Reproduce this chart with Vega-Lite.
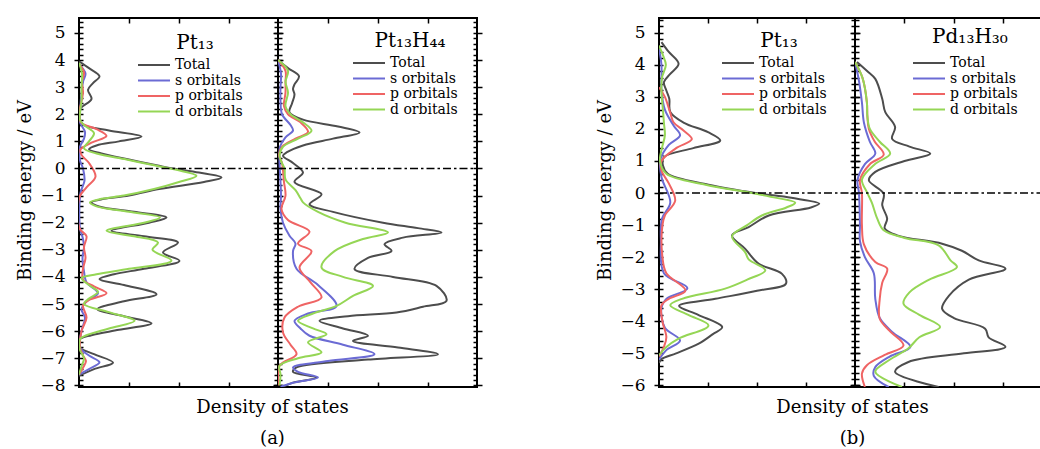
{
"$schema": "https://vega.github.io/schema/vega-lite/v6.json",
"padding": {"left": 15, "top": 16, "right": 0, "bottom": 0},
"background": "white",
"config": {
 "view": {"stroke": "black", "strokeWidth": 2},
 "font": "DejaVu Serif",
 "axis": {"grid": false, "domain": false, "tickColor": "black", "tickWidth": 1.5, "labelFont": "DejaVu Serif", "titleFont": "DejaVu Serif", "labelColor": "black", "titleColor": "black", "titleFontWeight": "normal", "labelFontSize": 17, "titleFontSize": 18},
 "legend": {"orient": "none", "symbolType": "M-3.2,0H3.2", "symbolSize": 100, "symbolStrokeWidth": 2, "symbolFillColor": "transparent", "labelFontSize": 14, "labelFont": "DejaVu Serif", "titleFont": "DejaVu Serif", "titleFontSize": 20, "titleFontWeight": "normal", "titleAnchor": "middle", "rowPadding": 1.5, "labelOffset": 14, "titlePadding": 5, "labelColor": "black", "titleColor": "black", "labelLimit": 200, "padding": 0}
},
"datasets": {
 "a1": [
  {"o":"Total","E":3.95,"v":0},{"o":"Total","E":3.7,"v":0.2},{"o":"Total","E":3.4,"v":0.41},{"o":"Total","E":3.15,"v":0.28},{"o":"Total","E":2.9,"v":0.18},{"o":"Total","E":2.56,"v":0.25},{"o":"Total","E":2.3,"v":0.08},{"o":"Total","E":2.15,"v":0},{"o":"Total","E":1.8,"v":0.01},{"o":"Total","E":1.6,"v":0.1},{"o":"Total","E":1.4,"v":0.6},{"o":"Total","E":1.18,"v":1.25},{"o":"Total","E":1.0,"v":0.8},{"o":"Total","E":0.85,"v":0.35},{"o":"Total","E":0.71,"v":0.2},{"o":"Total","E":0.55,"v":0.45},{"o":"Total","E":0.33,"v":1.0},{"o":"Total","E":0.1,"v":1.6},{"o":"Total","E":0,"v":1.88},{"o":"Total","E":-0.15,"v":2.4},{"o":"Total","E":-0.33,"v":2.85},{"o":"Total","E":-0.5,"v":2.5},{"o":"Total","E":-0.76,"v":1.6},{"o":"Total","E":-1.0,"v":1.0},{"o":"Total","E":-1.12,"v":0.5},{"o":"Total","E":-1.25,"v":0.25},{"o":"Total","E":-1.4,"v":0.4},{"o":"Total","E":-1.6,"v":1.1},{"o":"Total","E":-1.81,"v":1.75},{"o":"Total","E":-2.0,"v":1.4},{"o":"Total","E":-2.3,"v":0.65},{"o":"Total","E":-2.5,"v":1.3},{"o":"Total","E":-2.73,"v":1.98},{"o":"Total","E":-3.1,"v":1.68},{"o":"Total","E":-3.41,"v":2.01},{"o":"Total","E":-3.7,"v":1.3},{"o":"Total","E":-3.9,"v":0.7},{"o":"Total","E":-4.08,"v":0.41},{"o":"Total","E":-4.3,"v":0.9},{"o":"Total","E":-4.64,"v":1.55},{"o":"Total","E":-4.9,"v":0.9},{"o":"Total","E":-5.19,"v":0.37},{"o":"Total","E":-5.45,"v":0.9},{"o":"Total","E":-5.71,"v":1.45},{"o":"Total","E":-5.95,"v":0.8},{"o":"Total","E":-6.15,"v":0.25},{"o":"Total","E":-6.3,"v":0.02},{"o":"Total","E":-6.6,"v":0.02},{"o":"Total","E":-6.85,"v":0.3},{"o":"Total","E":-7.16,"v":0.68},{"o":"Total","E":-7.4,"v":0.3},{"o":"Total","E":-7.65,"v":0},
  {"o":"s orbitals","E":3.85,"v":0},{"o":"s orbitals","E":3.5,"v":0.13},{"o":"s orbitals","E":3.2,"v":0.08},{"o":"s orbitals","E":2.8,"v":0.05},{"o":"s orbitals","E":2.3,"v":0.03},{"o":"s orbitals","E":1.7,"v":0.02},{"o":"s orbitals","E":1.35,"v":0.12},{"o":"s orbitals","E":1.1,"v":0.1},{"o":"s orbitals","E":0.8,"v":0.02},{"o":"s orbitals","E":0.3,"v":0.02},{"o":"s orbitals","E":0,"v":0.08},{"o":"s orbitals","E":-0.45,"v":0.11},{"o":"s orbitals","E":-0.9,"v":0.03},{"o":"s orbitals","E":-2.2,"v":0.02},{"o":"s orbitals","E":-2.6,"v":0.08},{"o":"s orbitals","E":-2.9,"v":0.1},{"o":"s orbitals","E":-3.3,"v":0.07},{"o":"s orbitals","E":-3.8,"v":0.1},{"o":"s orbitals","E":-4.2,"v":0.15},{"o":"s orbitals","E":-4.6,"v":0.38},{"o":"s orbitals","E":-4.9,"v":0.15},{"o":"s orbitals","E":-5.2,"v":0.05},{"o":"s orbitals","E":-5.5,"v":0.12},{"o":"s orbitals","E":-6.0,"v":0.05},{"o":"s orbitals","E":-6.6,"v":0.02},{"o":"s orbitals","E":-6.9,"v":0.2},{"o":"s orbitals","E":-7.15,"v":0.41},{"o":"s orbitals","E":-7.4,"v":0.2},{"o":"s orbitals","E":-7.6,"v":0},
  {"o":"p orbitals","E":3.85,"v":0},{"o":"p orbitals","E":3.55,"v":0.1},{"o":"p orbitals","E":3.2,"v":0.06},{"o":"p orbitals","E":2.8,"v":0.08},{"o":"p orbitals","E":2.4,"v":0.04},{"o":"p orbitals","E":2.1,"v":0.01},{"o":"p orbitals","E":1.7,"v":0.04},{"o":"p orbitals","E":1.45,"v":0.35},{"o":"p orbitals","E":1.2,"v":0.55},{"o":"p orbitals","E":0.95,"v":0.25},{"o":"p orbitals","E":0.7,"v":0.03},{"o":"p orbitals","E":0.5,"v":0.05},{"o":"p orbitals","E":0.2,"v":0.2},{"o":"p orbitals","E":-0.3,"v":0.33},{"o":"p orbitals","E":-0.7,"v":0.15},{"o":"p orbitals","E":-1.05,"v":0.01},{"o":"p orbitals","E":-2.2,"v":0.01},{"o":"p orbitals","E":-2.5,"v":0.15},{"o":"p orbitals","E":-2.9,"v":0.1},{"o":"p orbitals","E":-3.3,"v":0.13},{"o":"p orbitals","E":-3.7,"v":0.08},{"o":"p orbitals","E":-4.1,"v":0.08},{"o":"p orbitals","E":-4.35,"v":0.3},{"o":"p orbitals","E":-4.6,"v":0.55},{"o":"p orbitals","E":-4.85,"v":0.2},{"o":"p orbitals","E":-5.05,"v":0.08},{"o":"p orbitals","E":-5.5,"v":0.15},{"o":"p orbitals","E":-6.0,"v":0.05},{"o":"p orbitals","E":-6.6,"v":0.02},{"o":"p orbitals","E":-6.9,"v":0.08},{"o":"p orbitals","E":-7.1,"v":0.14},{"o":"p orbitals","E":-7.35,"v":0.08},{"o":"p orbitals","E":-7.6,"v":0},
  {"o":"d orbitals","E":3.9,"v":0},{"o":"d orbitals","E":3.5,"v":0.06},{"o":"d orbitals","E":3.0,"v":0.05},{"o":"d orbitals","E":2.5,"v":0.05},{"o":"d orbitals","E":2.2,"v":0.03},{"o":"d orbitals","E":1.8,"v":0.02},{"o":"d orbitals","E":1.6,"v":0.1},{"o":"d orbitals","E":1.3,"v":0.3},{"o":"d orbitals","E":1.0,"v":0.2},{"o":"d orbitals","E":0.75,"v":0.1},{"o":"d orbitals","E":0.55,"v":0.35},{"o":"d orbitals","E":0.33,"v":0.95},{"o":"d orbitals","E":0.1,"v":1.55},{"o":"d orbitals","E":-0.05,"v":1.95},{"o":"d orbitals","E":-0.27,"v":2.35},{"o":"d orbitals","E":-0.5,"v":2.0},{"o":"d orbitals","E":-0.76,"v":1.5},{"o":"d orbitals","E":-1.0,"v":0.9},{"o":"d orbitals","E":-1.12,"v":0.45},{"o":"d orbitals","E":-1.25,"v":0.22},{"o":"d orbitals","E":-1.4,"v":0.35},{"o":"d orbitals","E":-1.6,"v":1.0},{"o":"d orbitals","E":-1.81,"v":1.62},{"o":"d orbitals","E":-2.0,"v":1.3},{"o":"d orbitals","E":-2.3,"v":0.55},{"o":"d orbitals","E":-2.5,"v":1.1},{"o":"d orbitals","E":-2.73,"v":1.58},{"o":"d orbitals","E":-3.0,"v":1.47},{"o":"d orbitals","E":-3.4,"v":1.85},{"o":"d orbitals","E":-3.7,"v":1.0},{"o":"d orbitals","E":-3.9,"v":0.35},{"o":"d orbitals","E":-4.05,"v":0.05},{"o":"d orbitals","E":-4.3,"v":0.2},{"o":"d orbitals","E":-4.55,"v":0.38},{"o":"d orbitals","E":-4.8,"v":0.2},{"o":"d orbitals","E":-5.0,"v":0.1},{"o":"d orbitals","E":-5.3,"v":0.6},{"o":"d orbitals","E":-5.62,"v":1.11},{"o":"d orbitals","E":-5.9,"v":0.6},{"o":"d orbitals","E":-6.15,"v":0.15},{"o":"d orbitals","E":-6.3,"v":0.02},{"o":"d orbitals","E":-6.7,"v":0.02},{"o":"d orbitals","E":-7.0,"v":0.1},{"o":"d orbitals","E":-7.3,"v":0.05},{"o":"d orbitals","E":-7.6,"v":0}
 ],
 "a2": [
  {"o":"Total","E":4.0,"v":0},{"o":"Total","E":3.7,"v":0.2},{"o":"Total","E":3.4,"v":0.42},{"o":"Total","E":3.1,"v":0.33},{"o":"Total","E":2.93,"v":0.3},{"o":"Total","E":2.73,"v":0.33},{"o":"Total","E":2.4,"v":0.28},{"o":"Total","E":2.07,"v":0.23},{"o":"Total","E":1.8,"v":0.5},{"o":"Total","E":1.55,"v":1.2},{"o":"Total","E":1.33,"v":1.63},{"o":"Total","E":1.1,"v":1.1},{"o":"Total","E":0.85,"v":0.5},{"o":"Total","E":0.6,"v":0.18},{"o":"Total","E":0.47,"v":0.1},{"o":"Total","E":0.2,"v":0.3},{"o":"Total","E":-0.15,"v":0.5},{"o":"Total","E":-0.5,"v":0.33},{"o":"Total","E":-0.95,"v":0.87},{"o":"Total","E":-1.32,"v":0.63},{"o":"Total","E":-1.6,"v":1.1},{"o":"Total","E":-2.0,"v":2.1},{"o":"Total","E":-2.2,"v":2.8},{"o":"Total","E":-2.36,"v":3.27},{"o":"Total","E":-2.55,"v":2.5},{"o":"Total","E":-2.79,"v":2.13},{"o":"Total","E":-3.04,"v":2.27},{"o":"Total","E":-3.3,"v":1.8},{"o":"Total","E":-3.71,"v":1.53},{"o":"Total","E":-4.0,"v":2.3},{"o":"Total","E":-4.33,"v":3.17},{"o":"Total","E":-4.88,"v":3.37},{"o":"Total","E":-5.1,"v":2.9},{"o":"Total","E":-5.31,"v":2.37},{"o":"Total","E":-5.45,"v":1.4},{"o":"Total","E":-5.62,"v":0.83},{"o":"Total","E":-5.9,"v":1.3},{"o":"Total","E":-6.17,"v":1.8},{"o":"Total","E":-6.36,"v":1.5},{"o":"Total","E":-6.6,"v":2.4},{"o":"Total","E":-6.85,"v":3.2},{"o":"Total","E":-7.05,"v":1.8},{"o":"Total","E":-7.34,"v":0.37},{"o":"Total","E":-7.5,"v":0.3},{"o":"Total","E":-7.71,"v":0.77},{"o":"Total","E":-7.9,"v":0.3},{"o":"Total","E":-8.05,"v":0.1},
  {"o":"s orbitals","E":4.0,"v":0},{"o":"s orbitals","E":3.5,"v":0.06},{"o":"s orbitals","E":3.0,"v":0.05},{"o":"s orbitals","E":2.5,"v":0.05},{"o":"s orbitals","E":2.0,"v":0.08},{"o":"s orbitals","E":1.6,"v":0.25},{"o":"s orbitals","E":1.4,"v":0.3},{"o":"s orbitals","E":1.15,"v":0.15},{"o":"s orbitals","E":0.8,"v":0.04},{"o":"s orbitals","E":0.3,"v":0.03},{"o":"s orbitals","E":-0.5,"v":0.05},{"o":"s orbitals","E":-1.0,"v":0.06},{"o":"s orbitals","E":-1.5,"v":0.05},{"o":"s orbitals","E":-2.0,"v":0.1},{"o":"s orbitals","E":-2.48,"v":0.23},{"o":"s orbitals","E":-2.77,"v":0.35},{"o":"s orbitals","E":-3.05,"v":0.3},{"o":"s orbitals","E":-3.7,"v":0.37},{"o":"s orbitals","E":-4.3,"v":0.8},{"o":"s orbitals","E":-5.07,"v":1.17},{"o":"s orbitals","E":-5.35,"v":0.6},{"o":"s orbitals","E":-5.62,"v":0.33},{"o":"s orbitals","E":-5.9,"v":0.45},{"o":"s orbitals","E":-6.17,"v":0.63},{"o":"s orbitals","E":-6.5,"v":1.3},{"o":"s orbitals","E":-6.85,"v":1.93},{"o":"s orbitals","E":-7.1,"v":1.0},{"o":"s orbitals","E":-7.34,"v":0.3},{"o":"s orbitals","E":-7.5,"v":0.4},{"o":"s orbitals","E":-7.71,"v":0.8},{"o":"s orbitals","E":-7.9,"v":0.3},{"o":"s orbitals","E":-8.05,"v":0.05},
  {"o":"p orbitals","E":4.0,"v":0},{"o":"p orbitals","E":3.6,"v":0.15},{"o":"p orbitals","E":3.2,"v":0.15},{"o":"p orbitals","E":2.8,"v":0.15},{"o":"p orbitals","E":2.3,"v":0.12},{"o":"p orbitals","E":2.0,"v":0.2},{"o":"p orbitals","E":1.7,"v":0.45},{"o":"p orbitals","E":1.35,"v":0.6},{"o":"p orbitals","E":1.1,"v":0.35},{"o":"p orbitals","E":0.8,"v":0.08},{"o":"p orbitals","E":0.5,"v":0.02},{"o":"p orbitals","E":0.2,"v":0.08},{"o":"p orbitals","E":-0.5,"v":0.12},{"o":"p orbitals","E":-1.0,"v":0.15},{"o":"p orbitals","E":-1.5,"v":0.07},{"o":"p orbitals","E":-1.9,"v":0.2},{"o":"p orbitals","E":-2.33,"v":0.63},{"o":"p orbitals","E":-2.77,"v":0.4},{"o":"p orbitals","E":-3.05,"v":0.67},{"o":"p orbitals","E":-3.65,"v":0.43},{"o":"p orbitals","E":-4.2,"v":0.65},{"o":"p orbitals","E":-4.76,"v":0.87},{"o":"p orbitals","E":-5.1,"v":0.4},{"o":"p orbitals","E":-5.5,"v":0.13},{"o":"p orbitals","E":-6.05,"v":0.1},{"o":"p orbitals","E":-6.5,"v":0.25},{"o":"p orbitals","E":-6.85,"v":0.37},{"o":"p orbitals","E":-7.28,"v":0.03},{"o":"p orbitals","E":-8.0,"v":0.02},
  {"o":"d orbitals","E":4.0,"v":0},{"o":"d orbitals","E":3.6,"v":0.2},{"o":"d orbitals","E":3.2,"v":0.15},{"o":"d orbitals","E":2.8,"v":0.2},{"o":"d orbitals","E":2.3,"v":0.15},{"o":"d orbitals","E":2.0,"v":0.25},{"o":"d orbitals","E":1.7,"v":0.5},{"o":"d orbitals","E":1.39,"v":0.67},{"o":"d orbitals","E":1.1,"v":0.4},{"o":"d orbitals","E":0.8,"v":0.1},{"o":"d orbitals","E":0.47,"v":0.03},{"o":"d orbitals","E":0.2,"v":0.08},{"o":"d orbitals","E":0,"v":0.13},{"o":"d orbitals","E":-0.4,"v":0.15},{"o":"d orbitals","E":-0.8,"v":0.35},{"o":"d orbitals","E":-1.1,"v":0.45},{"o":"d orbitals","E":-1.25,"v":0.5},{"o":"d orbitals","E":-1.6,"v":0.8},{"o":"d orbitals","E":-2.0,"v":1.35},{"o":"d orbitals","E":-2.36,"v":2.2},{"o":"d orbitals","E":-2.6,"v":1.7},{"o":"d orbitals","E":-3.05,"v":1.13},{"o":"d orbitals","E":-3.65,"v":0.87},{"o":"d orbitals","E":-4.0,"v":1.3},{"o":"d orbitals","E":-4.33,"v":1.9},{"o":"d orbitals","E":-4.7,"v":1.5},{"o":"d orbitals","E":-5.07,"v":1.17},{"o":"d orbitals","E":-5.35,"v":0.7},{"o":"d orbitals","E":-5.62,"v":0.4},{"o":"d orbitals","E":-5.9,"v":0.7},{"o":"d orbitals","E":-6.11,"v":0.97},{"o":"d orbitals","E":-6.41,"v":0.6},{"o":"d orbitals","E":-6.78,"v":0.87},{"o":"d orbitals","E":-7.0,"v":0.4},{"o":"d orbitals","E":-7.28,"v":0.03},{"o":"d orbitals","E":-7.6,"v":0.05},{"o":"d orbitals","E":-8.0,"v":0.03}
 ],
 "b1": [
  {"o":"Total","E":4.71,"v":0.05},{"o":"Total","E":4.4,"v":0.2},{"o":"Total","E":4.03,"v":0.4},{"o":"Total","E":3.7,"v":0.22},{"o":"Total","E":3.46,"v":0.1},{"o":"Total","E":3.2,"v":0.15},{"o":"Total","E":2.94,"v":0.21},{"o":"Total","E":2.53,"v":0.23},{"o":"Total","E":2.2,"v":0.5},{"o":"Total","E":1.9,"v":1.0},{"o":"Total","E":1.64,"v":1.25},{"o":"Total","E":1.4,"v":0.7},{"o":"Total","E":1.12,"v":0.1},{"o":"Total","E":0.86,"v":0.08},{"o":"Total","E":0.6,"v":0.18},{"o":"Total","E":0.26,"v":1.01},{"o":"Total","E":0,"v":1.97},{"o":"Total","E":-0.15,"v":2.7},{"o":"Total","E":-0.33,"v":3.27},{"o":"Total","E":-0.45,"v":3.1},{"o":"Total","E":-0.7,"v":2.24},{"o":"Total","E":-1.06,"v":1.83},{"o":"Total","E":-1.32,"v":1.49},{"o":"Total","E":-1.74,"v":1.76},{"o":"Total","E":-2.2,"v":2.03},{"o":"Total","E":-2.52,"v":2.51},{"o":"Total","E":-2.83,"v":2.59},{"o":"Total","E":-3.05,"v":2.0},{"o":"Total","E":-3.3,"v":1.15},{"o":"Total","E":-3.52,"v":0.41},{"o":"Total","E":-3.8,"v":0.8},{"o":"Total","E":-4.18,"v":1.29},{"o":"Total","E":-4.4,"v":1.1},{"o":"Total","E":-4.7,"v":0.81},{"o":"Total","E":-5.0,"v":0.35},{"o":"Total","E":-5.17,"v":0.06},{"o":"Total","E":-5.3,"v":0},
  {"o":"s orbitals","E":4.5,"v":0},{"o":"s orbitals","E":4.0,"v":0.05},{"o":"s orbitals","E":3.2,"v":0.05},{"o":"s orbitals","E":2.6,"v":0.12},{"o":"s orbitals","E":2.1,"v":0.3},{"o":"s orbitals","E":1.8,"v":0.43},{"o":"s orbitals","E":1.5,"v":0.2},{"o":"s orbitals","E":1.05,"v":0.03},{"o":"s orbitals","E":0.5,"v":0.05},{"o":"s orbitals","E":-0.3,"v":0.23},{"o":"s orbitals","E":-0.8,"v":0.06},{"o":"s orbitals","E":-1.5,"v":0.04},{"o":"s orbitals","E":-2.5,"v":0.1},{"o":"s orbitals","E":-2.97,"v":0.58},{"o":"s orbitals","E":-3.3,"v":0.15},{"o":"s orbitals","E":-3.6,"v":0.05},{"o":"s orbitals","E":-4.2,"v":0.12},{"o":"s orbitals","E":-4.6,"v":0.43},{"o":"s orbitals","E":-4.9,"v":0.15},{"o":"s orbitals","E":-5.2,"v":0},
  {"o":"p orbitals","E":3.3,"v":0},{"o":"p orbitals","E":3.0,"v":0.12},{"o":"p orbitals","E":2.5,"v":0.23},{"o":"p orbitals","E":2.2,"v":0.3},{"o":"p orbitals","E":1.95,"v":0.5},{"o":"p orbitals","E":1.68,"v":0.67},{"o":"p orbitals","E":1.4,"v":0.35},{"o":"p orbitals","E":1.0,"v":0.05},{"o":"p orbitals","E":0.7,"v":0.05},{"o":"p orbitals","E":0.3,"v":0.2},{"o":"p orbitals","E":-0.24,"v":0.33},{"o":"p orbitals","E":-0.7,"v":0.12},{"o":"p orbitals","E":-1.0,"v":0.07},{"o":"p orbitals","E":-2.0,"v":0.07},{"o":"p orbitals","E":-2.5,"v":0.15},{"o":"p orbitals","E":-3.04,"v":0.54},{"o":"p orbitals","E":-3.3,"v":0.2},{"o":"p orbitals","E":-3.5,"v":0.05},{"o":"p orbitals","E":-4.0,"v":0.07},{"o":"p orbitals","E":-4.5,"v":0.15},{"o":"p orbitals","E":-4.8,"v":0.1},{"o":"p orbitals","E":-5.1,"v":0},
  {"o":"d orbitals","E":4.6,"v":0},{"o":"d orbitals","E":4.3,"v":0.08},{"o":"d orbitals","E":4.0,"v":0.14},{"o":"d orbitals","E":3.6,"v":0.06},{"o":"d orbitals","E":3.2,"v":0.05},{"o":"d orbitals","E":2.6,"v":0.08},{"o":"d orbitals","E":2.2,"v":0.1},{"o":"d orbitals","E":1.8,"v":0.12},{"o":"d orbitals","E":1.4,"v":0.06},{"o":"d orbitals","E":1.0,"v":0.02},{"o":"d orbitals","E":0.6,"v":0.15},{"o":"d orbitals","E":0.26,"v":0.95},{"o":"d orbitals","E":0,"v":1.9},{"o":"d orbitals","E":-0.15,"v":2.4},{"o":"d orbitals","E":-0.3,"v":2.78},{"o":"d orbitals","E":-0.45,"v":2.6},{"o":"d orbitals","E":-0.7,"v":2.1},{"o":"d orbitals","E":-1.0,"v":1.8},{"o":"d orbitals","E":-1.35,"v":1.49},{"o":"d orbitals","E":-1.85,"v":1.76},{"o":"d orbitals","E":-2.07,"v":1.83},{"o":"d orbitals","E":-2.41,"v":2.17},{"o":"d orbitals","E":-2.7,"v":1.8},{"o":"d orbitals","E":-2.98,"v":1.35},{"o":"d orbitals","E":-3.3,"v":0.47},{"o":"d orbitals","E":-3.5,"v":0.23},{"o":"d orbitals","E":-3.8,"v":0.6},{"o":"d orbitals","E":-4.13,"v":1.01},{"o":"d orbitals","E":-4.54,"v":0.4},{"o":"d orbitals","E":-4.8,"v":0.15},{"o":"d orbitals","E":-5.06,"v":0}
 ],
 "b2": [
  {"o":"Total","E":4.09,"v":0.04},{"o":"Total","E":3.8,"v":0.25},{"o":"Total","E":3.56,"v":0.41},{"o":"Total","E":2.94,"v":0.55},{"o":"Total","E":2.53,"v":0.61},{"o":"Total","E":2.06,"v":0.81},{"o":"Total","E":1.69,"v":0.75},{"o":"Total","E":1.45,"v":1.1},{"o":"Total","E":1.23,"v":1.52},{"o":"Total","E":1.0,"v":1.0},{"o":"Total","E":0.66,"v":0.41},{"o":"Total","E":0.4,"v":0.28},{"o":"Total","E":-0.02,"v":0.58},{"o":"Total","E":-0.38,"v":0.55},{"o":"Total","E":-0.8,"v":0.65},{"o":"Total","E":-1.1,"v":0.6},{"o":"Total","E":-1.32,"v":0.85},{"o":"Total","E":-1.58,"v":1.76},{"o":"Total","E":-1.8,"v":2.16},{"o":"Total","E":-2.1,"v":2.5},{"o":"Total","E":-2.36,"v":3.04},{"o":"Total","E":-2.7,"v":2.3},{"o":"Total","E":-3.2,"v":1.9},{"o":"Total","E":-3.61,"v":1.76},{"o":"Total","E":-3.9,"v":2.0},{"o":"Total","E":-4.23,"v":2.63},{"o":"Total","E":-4.5,"v":2.7},{"o":"Total","E":-4.8,"v":3.04},{"o":"Total","E":-5.0,"v":2.2},{"o":"Total","E":-5.27,"v":1.08},{"o":"Total","E":-5.58,"v":0.81},{"o":"Total","E":-6.05,"v":1.69},
  {"o":"s orbitals","E":4.09,"v":0},{"o":"s orbitals","E":3.5,"v":0.08},{"o":"s orbitals","E":2.83,"v":0.14},{"o":"s orbitals","E":2.2,"v":0.18},{"o":"s orbitals","E":1.6,"v":0.3},{"o":"s orbitals","E":1.23,"v":0.41},{"o":"s orbitals","E":0.9,"v":0.2},{"o":"s orbitals","E":0.4,"v":0.05},{"o":"s orbitals","E":0,"v":0.08},{"o":"s orbitals","E":-1.0,"v":0.1},{"o":"s orbitals","E":-1.5,"v":0.1},{"o":"s orbitals","E":-2.0,"v":0.2},{"o":"s orbitals","E":-2.5,"v":0.38},{"o":"s orbitals","E":-3.3,"v":0.41},{"o":"s orbitals","E":-3.9,"v":0.5},{"o":"s orbitals","E":-4.33,"v":0.75},{"o":"s orbitals","E":-4.8,"v":1.12},{"o":"s orbitals","E":-5.1,"v":0.7},{"o":"s orbitals","E":-5.43,"v":0.41},{"o":"s orbitals","E":-5.7,"v":0.38},{"o":"s orbitals","E":-6.05,"v":0.68},
  {"o":"p orbitals","E":4.09,"v":0},{"o":"p orbitals","E":3.6,"v":0.15},{"o":"p orbitals","E":2.83,"v":0.24},{"o":"p orbitals","E":2.4,"v":0.25},{"o":"p orbitals","E":2.0,"v":0.28},{"o":"p orbitals","E":1.6,"v":0.4},{"o":"p orbitals","E":1.2,"v":0.58},{"o":"p orbitals","E":0.9,"v":0.3},{"o":"p orbitals","E":0.4,"v":0.1},{"o":"p orbitals","E":0,"v":0.14},{"o":"p orbitals","E":-1.0,"v":0.14},{"o":"p orbitals","E":-1.6,"v":0.18},{"o":"p orbitals","E":-2.15,"v":0.41},{"o":"p orbitals","E":-2.36,"v":0.65},{"o":"p orbitals","E":-2.8,"v":0.55},{"o":"p orbitals","E":-3.3,"v":0.5},{"o":"p orbitals","E":-3.92,"v":0.5},{"o":"p orbitals","E":-4.3,"v":0.7},{"o":"p orbitals","E":-4.75,"v":0.98},{"o":"p orbitals","E":-5.05,"v":0.6},{"o":"p orbitals","E":-5.37,"v":0.24},{"o":"p orbitals","E":-5.63,"v":0.14},{"o":"p orbitals","E":-6.05,"v":0.2},
  {"o":"d orbitals","E":4.09,"v":0},{"o":"d orbitals","E":3.6,"v":0.15},{"o":"d orbitals","E":2.83,"v":0.24},{"o":"d orbitals","E":2.4,"v":0.25},{"o":"d orbitals","E":2.0,"v":0.3},{"o":"d orbitals","E":1.6,"v":0.5},{"o":"d orbitals","E":1.23,"v":0.71},{"o":"d orbitals","E":0.9,"v":0.4},{"o":"d orbitals","E":0.42,"v":0.14},{"o":"d orbitals","E":0,"v":0.25},{"o":"d orbitals","E":-0.3,"v":0.34},{"o":"d orbitals","E":-0.8,"v":0.45},{"o":"d orbitals","E":-1.16,"v":0.58},{"o":"d orbitals","E":-1.4,"v":1.0},{"o":"d orbitals","E":-1.63,"v":1.69},{"o":"d orbitals","E":-2.1,"v":1.93},{"o":"d orbitals","E":-2.31,"v":2.06},{"o":"d orbitals","E":-2.7,"v":1.5},{"o":"d orbitals","E":-3.1,"v":1.1},{"o":"d orbitals","E":-3.45,"v":0.98},{"o":"d orbitals","E":-3.8,"v":1.3},{"o":"d orbitals","E":-4.18,"v":1.72},{"o":"d orbitals","E":-4.5,"v":1.3},{"o":"d orbitals","E":-4.84,"v":1.08},{"o":"d orbitals","E":-5.2,"v":0.7},{"o":"d orbitals","E":-5.58,"v":0.41},{"o":"d orbitals","E":-6.05,"v":0.95}
 ]
},
"spacing": 111,
"resolve": {"scale": {"color": "independent"}, "legend": {"color": "independent"}},
"hconcat": [
 {
  "spacing": 0, "bounds": "flush",
  "resolve": {"scale": {"color": "independent", "x": "independent", "y": "independent"}, "legend": {"color": "independent"}},
  "hconcat": [
   {
    "width": 199, "height": 369,
    "resolve": {"axis": {"x": "independent", "y": "independent"}},
    "layer": [
     {
      "data": {"name": "a1"},
      "mark": {"type": "line", "interpolate": "catmull-rom", "strokeWidth": 2, "clip": true},
      "encoding": {
       "x": {"field": "v", "type": "quantitative", "scale": {"domain": [0, 3.98], "nice": false, "zero": false},
        "axis": {"orient": "bottom", "values": [1,2,3], "offset": -5, "tickSize": 5, "labels": false, "title": ["Density of states", "(a)"], "titleX": 193, "titleY": 16, "titleAlign": "center", "titleBaseline": "top", "titleLineHeight": 31}},
       "y": {"field": "E", "type": "quantitative", "scale": {"domain": [-8.06, 5.55], "nice": false, "zero": false},
        "axis": {"orient": "left", "values": [-8,-7.8,-7.6,-7.4,-7.2,-7,-6.8,-6.6,-6.4,-6.2,-6,-5.8,-5.6,-5.4,-5.2,-5,-4.8,-4.6,-4.4,-4.2,-4,-3.8,-3.6,-3.4,-3.2,-3,-2.8,-2.6,-2.4,-2.2,-2,-1.8,-1.6,-1.4,-1.2,-1,-0.8,-0.6,-0.4,-0.2,0,0.2,0.4,0.6,0.8,1,1.2,1.4,1.6,1.8,2,2.2,2.4,2.6,2.8,3,3.2,3.4,3.6,3.8,4,4.2,4.4,4.6,4.8,5,5.2,5.4], "offset": -4,
         "tickSize": {"condition": {"test": "abs(datum.value - round(datum.value)) < 0.01", "value": 9}, "value": 4},
         "labelFontSize": {"condition": {"test": "abs(datum.value - round(datum.value)) < 0.01", "value": 17}, "value": 0},
         "labelExpr": "abs(datum.value - round(datum.value)) < 0.01 ? replace(format(round(datum.value), 'd'), '-', '−') : ''",
         "labelOverlap": false, "labelFlush": false, "labelPadding": 9, "title": "Binding energy / eV", "titlePadding": 5, "titleY": 172}},
       "order": {"field": "E", "sort": "descending"},
       "color": {"field": "o", "type": "nominal", "scale": {"domain": ["Total","s orbitals","p orbitals","d orbitals"], "range": ["#4d4d4d","#6b6bd4","#ef6464","#95d655"]},
        "legend": {"title": "Pt₁₃", "legendX": 68, "legendY": 15}}
      }
     },
     {
      "data": {"values": [{}]},
      "mark": {"type": "rule", "strokeDash": [8,3,2.5,3], "strokeWidth": 1.6, "color": "black"},
      "encoding": {
       "y": {"datum": 0, "type": "quantitative", "scale": {"domain": [-8.06, 5.55], "nice": false, "zero": false},
        "axis": {"orient": "right", "values": [-8,-7.8,-7.6,-7.4,-7.2,-7,-6.8,-6.6,-6.4,-6.2,-6,-5.8,-5.6,-5.4,-5.2,-5,-4.8,-4.6,-4.4,-4.2,-4,-3.8,-3.6,-3.4,-3.2,-3,-2.8,-2.6,-2.4,-2.2,-2,-1.8,-1.6,-1.4,-1.2,-1,-0.8,-0.6,-0.4,-0.2,0,0.2,0.4,0.6,0.8,1,1.2,1.4,1.6,1.8,2,2.2,2.4,2.6,2.8,3,3.2,3.4,3.6,3.8,4,4.2,4.4,4.6,4.8,5,5.2,5.4], "offset": -4,
         "tickSize": {"condition": {"test": "abs(datum.value - round(datum.value)) < 0.01", "value": 9}, "value": 4}, "labels": false, "title": null}},
       "x": {"datum": 0, "type": "quantitative", "scale": {"domain": [0, 3.98], "nice": false, "zero": false},
        "axis": {"orient": "top", "values": [1,2,3], "offset": -5, "tickSize": 5, "labels": false, "title": null}},
       "x2": {"datum": 3.98}
      }
     }
    ]
   },
   {
    "width": 199, "height": 369,
    "resolve": {"axis": {"x": "independent", "y": "independent"}},
    "layer": [
     {
      "data": {"name": "a2"},
      "mark": {"type": "line", "interpolate": "catmull-rom", "strokeWidth": 2, "clip": true},
      "encoding": {
       "x": {"field": "v", "type": "quantitative", "scale": {"domain": [0, 3.98], "nice": false, "zero": false},
        "axis": {"orient": "bottom", "values": [1,2,3], "offset": -5, "tickSize": 5, "labels": false, "title": null}},
       "y": {"field": "E", "type": "quantitative", "scale": {"domain": [-8.06, 5.55], "nice": false, "zero": false},
        "axis": {"orient": "left", "values": [-8,-7.8,-7.6,-7.4,-7.2,-7,-6.8,-6.6,-6.4,-6.2,-6,-5.8,-5.6,-5.4,-5.2,-5,-4.8,-4.6,-4.4,-4.2,-4,-3.8,-3.6,-3.4,-3.2,-3,-2.8,-2.6,-2.4,-2.2,-2,-1.8,-1.6,-1.4,-1.2,-1,-0.8,-0.6,-0.4,-0.2,0,0.2,0.4,0.6,0.8,1,1.2,1.4,1.6,1.8,2,2.2,2.4,2.6,2.8,3,3.2,3.4,3.6,3.8,4,4.2,4.4,4.6,4.8,5,5.2,5.4], "offset": -4,
         "tickSize": {"condition": {"test": "abs(datum.value - round(datum.value)) < 0.01", "value": 9}, "value": 4}, "labels": false, "title": null}},
       "order": {"field": "E", "sort": "descending"},
       "color": {"field": "o", "type": "nominal", "scale": {"domain": ["Total","s orbitals","p orbitals","d orbitals"], "range": ["#4d4d4d","#6b6bd4","#ef6464","#95d655"]},
        "legend": {"title": "Pt₁₃H₄₄", "legendX": 84, "legendY": 13}}
      }
     },
     {
      "data": {"values": [{}]},
      "mark": {"type": "rule", "strokeDash": [8,3,2.5,3], "strokeWidth": 1.6, "color": "black"},
      "encoding": {
       "y": {"datum": 0, "type": "quantitative", "scale": {"domain": [-8.06, 5.55], "nice": false, "zero": false},
        "axis": {"orient": "right", "values": [-8,-7.8,-7.6,-7.4,-7.2,-7,-6.8,-6.6,-6.4,-6.2,-6,-5.8,-5.6,-5.4,-5.2,-5,-4.8,-4.6,-4.4,-4.2,-4,-3.8,-3.6,-3.4,-3.2,-3,-2.8,-2.6,-2.4,-2.2,-2,-1.8,-1.6,-1.4,-1.2,-1,-0.8,-0.6,-0.4,-0.2,0,0.2,0.4,0.6,0.8,1,1.2,1.4,1.6,1.8,2,2.2,2.4,2.6,2.8,3,3.2,3.4,3.6,3.8,4,4.2,4.4,4.6,4.8,5,5.2,5.4], "offset": -4,
         "tickSize": {"condition": {"test": "abs(datum.value - round(datum.value)) < 0.01", "value": 9}, "value": 4}, "labels": false, "title": null}},
       "x": {"datum": 0, "type": "quantitative", "scale": {"domain": [0, 3.98], "nice": false, "zero": false},
        "axis": {"orient": "top", "values": [1,2,3], "offset": -5, "tickSize": 5, "labels": false, "title": null}},
       "x2": {"datum": 3.98}
      }
     }
    ]
   }
  ]
 },
 {
  "spacing": 0, "bounds": "flush",
  "resolve": {"scale": {"color": "independent", "x": "independent", "y": "independent"}, "legend": {"color": "independent"}},
  "hconcat": [
   {
    "width": 196, "height": 369,
    "resolve": {"axis": {"x": "independent", "y": "independent"}},
    "layer": [
     {
      "data": {"name": "b1"},
      "mark": {"type": "line", "interpolate": "catmull-rom", "strokeWidth": 2, "clip": true},
      "encoding": {
       "x": {"field": "v", "type": "quantitative", "scale": {"domain": [0, 4], "nice": false, "zero": false},
        "axis": {"orient": "bottom", "values": [1,2,3], "offset": -5, "tickSize": 5, "labels": false, "title": ["Density of states", "(b)"], "titleX": 193, "titleY": 16, "titleAlign": "center", "titleBaseline": "top", "titleLineHeight": 31}},
       "y": {"field": "E", "type": "quantitative", "scale": {"domain": [-6.05, 5.46], "nice": false, "zero": false},
        "axis": {"orient": "left", "values": [-6,-5.8,-5.6,-5.4,-5.2,-5,-4.8,-4.6,-4.4,-4.2,-4,-3.8,-3.6,-3.4,-3.2,-3,-2.8,-2.6,-2.4,-2.2,-2,-1.8,-1.6,-1.4,-1.2,-1,-0.8,-0.6,-0.4,-0.2,0,0.2,0.4,0.6,0.8,1,1.2,1.4,1.6,1.8,2,2.2,2.4,2.6,2.8,3,3.2,3.4,3.6,3.8,4,4.2,4.4,4.6,4.8,5,5.2,5.4], "offset": -4,
         "tickSize": {"condition": {"test": "abs(datum.value - round(datum.value)) < 0.01", "value": 9}, "value": 4},
         "labelFontSize": {"condition": {"test": "abs(datum.value - round(datum.value)) < 0.01", "value": 17}, "value": 0},
         "labelExpr": "abs(datum.value - round(datum.value)) < 0.01 ? replace(format(round(datum.value), 'd'), '-', '−') : ''",
         "labelOverlap": false, "labelFlush": false, "labelPadding": 9, "title": "Binding energy / eV", "titlePadding": 5, "titleY": 172}},
       "order": {"field": "E", "sort": "descending"},
       "color": {"field": "o", "type": "nominal", "scale": {"domain": ["Total","s orbitals","p orbitals","d orbitals"], "range": ["#4d4d4d","#6b6bd4","#ef6464","#95d655"]},
        "legend": {"title": "Pt₁₃", "legendX": 72, "legendY": 13}}
      }
     },
     {
      "data": {"values": [{}]},
      "mark": {"type": "rule", "strokeDash": [8,3,2.5,3], "strokeWidth": 1.6, "color": "black"},
      "encoding": {
       "y": {"datum": 0, "type": "quantitative", "scale": {"domain": [-6.05, 5.46], "nice": false, "zero": false},
        "axis": {"orient": "right", "values": [-6,-5.8,-5.6,-5.4,-5.2,-5,-4.8,-4.6,-4.4,-4.2,-4,-3.8,-3.6,-3.4,-3.2,-3,-2.8,-2.6,-2.4,-2.2,-2,-1.8,-1.6,-1.4,-1.2,-1,-0.8,-0.6,-0.4,-0.2,0,0.2,0.4,0.6,0.8,1,1.2,1.4,1.6,1.8,2,2.2,2.4,2.6,2.8,3,3.2,3.4,3.6,3.8,4,4.2,4.4,4.6,4.8,5,5.2,5.4], "offset": -4,
         "tickSize": {"condition": {"test": "abs(datum.value - round(datum.value)) < 0.01", "value": 9}, "value": 4}, "labels": false, "title": null}},
       "x": {"datum": 0, "type": "quantitative", "scale": {"domain": [0, 4], "nice": false, "zero": false},
        "axis": {"orient": "top", "values": [1,2,3], "offset": -5, "tickSize": 5, "labels": false, "title": null}},
       "x2": {"datum": 4}
      }
     }
    ]
   },
   {
    "width": 196, "height": 369,
    "resolve": {"axis": {"x": "independent", "y": "independent"}},
    "layer": [
     {
      "data": {"name": "b2"},
      "mark": {"type": "line", "interpolate": "catmull-rom", "strokeWidth": 2, "clip": true},
      "encoding": {
       "x": {"field": "v", "type": "quantitative", "scale": {"domain": [0, 3.96], "nice": false, "zero": false},
        "axis": {"orient": "bottom", "values": [1,2,3], "offset": -5, "tickSize": 5, "labels": false, "title": null}},
       "y": {"field": "E", "type": "quantitative", "scale": {"domain": [-6.05, 5.46], "nice": false, "zero": false},
        "axis": {"orient": "left", "values": [-6,-5.8,-5.6,-5.4,-5.2,-5,-4.8,-4.6,-4.4,-4.2,-4,-3.8,-3.6,-3.4,-3.2,-3,-2.8,-2.6,-2.4,-2.2,-2,-1.8,-1.6,-1.4,-1.2,-1,-0.8,-0.6,-0.4,-0.2,0,0.2,0.4,0.6,0.8,1,1.2,1.4,1.6,1.8,2,2.2,2.4,2.6,2.8,3,3.2,3.4,3.6,3.8,4,4.2,4.4,4.6,4.8,5,5.2,5.4], "offset": -4,
         "tickSize": {"condition": {"test": "abs(datum.value - round(datum.value)) < 0.01", "value": 9}, "value": 4}, "labels": false, "title": null}},
       "order": {"field": "E", "sort": "descending"},
       "color": {"field": "o", "type": "nominal", "scale": {"domain": ["Total","s orbitals","p orbitals","d orbitals"], "range": ["#4d4d4d","#6b6bd4","#ef6464","#95d655"]},
        "legend": {"title": "Pd₁₃H₃₀", "legendX": 67, "legendY": 9, "titlePadding": 9}}
      }
     },
     {
      "data": {"values": [{}]},
      "mark": {"type": "rule", "strokeDash": [8,3,2.5,3], "strokeWidth": 1.6, "color": "black"},
      "encoding": {
       "y": {"datum": 0, "type": "quantitative", "scale": {"domain": [-6.05, 5.46], "nice": false, "zero": false},
        "axis": {"orient": "right", "values": [-6,-5.8,-5.6,-5.4,-5.2,-5,-4.8,-4.6,-4.4,-4.2,-4,-3.8,-3.6,-3.4,-3.2,-3,-2.8,-2.6,-2.4,-2.2,-2,-1.8,-1.6,-1.4,-1.2,-1,-0.8,-0.6,-0.4,-0.2,0,0.2,0.4,0.6,0.8,1,1.2,1.4,1.6,1.8,2,2.2,2.4,2.6,2.8,3,3.2,3.4,3.6,3.8,4,4.2,4.4,4.6,4.8,5,5.2,5.4], "offset": -4,
         "tickSize": {"condition": {"test": "abs(datum.value - round(datum.value)) < 0.01", "value": 9}, "value": 4}, "labels": false, "title": null}},
       "x": {"datum": 0, "type": "quantitative", "scale": {"domain": [0, 3.96], "nice": false, "zero": false},
        "axis": {"orient": "top", "values": [1,2,3], "offset": -5, "tickSize": 5, "labels": false, "title": null}},
       "x2": {"datum": 3.96}
      }
     }
    ]
   }
  ]
 }
]
}
